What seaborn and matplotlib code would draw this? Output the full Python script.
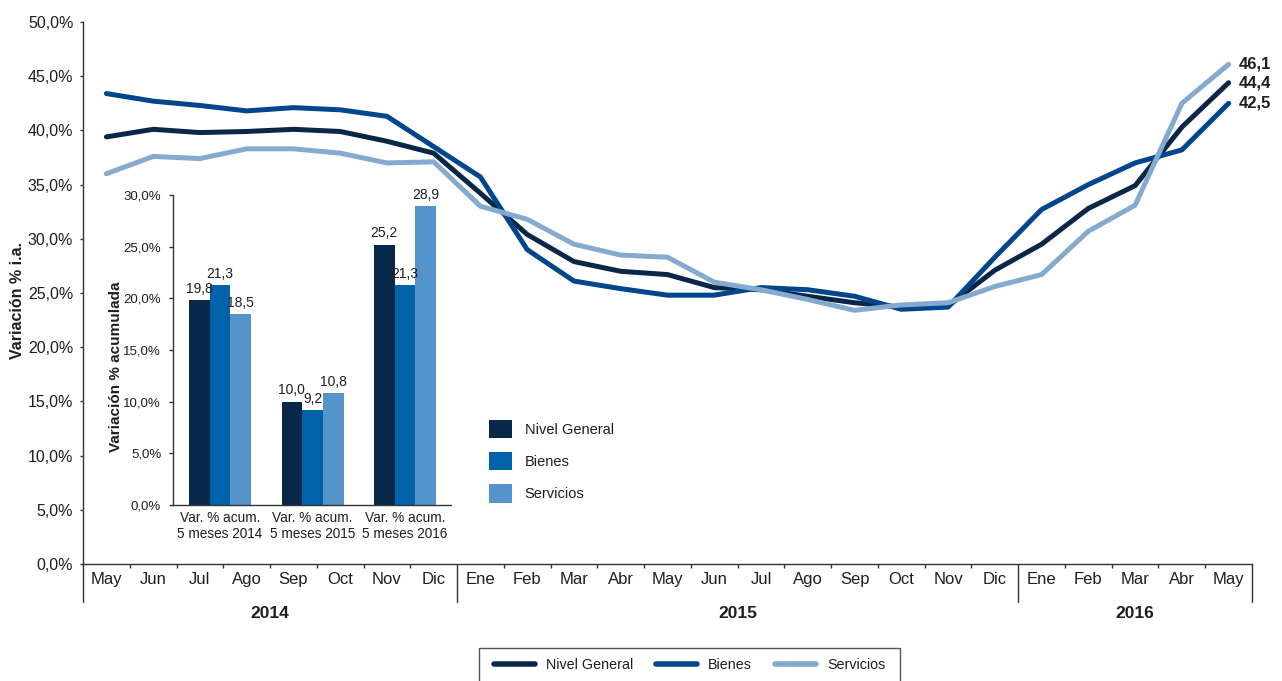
import numpy as np
import pandas as pd
import matplotlib
matplotlib.use("Agg")
import matplotlib.pyplot as plt
import seaborn as sns
from matplotlib.patches import Rectangle

# ---------------- data ----------------
meses = ["May", "Jun", "Jul", "Ago", "Sep", "Oct", "Nov", "Dic",
         "Ene", "Feb", "Mar", "Abr", "May", "Jun", "Jul", "Ago", "Sep", "Oct", "Nov", "Dic",
         "Ene", "Feb", "Mar", "Abr", "May"]
anios = ["2014", "2015", "2016"]
meses_por_anio = [8, 12, 5]

series = ["Nivel General", "Bienes", "Servicios"]
nivel_general = [39.4, 40.1, 39.8, 39.9, 40.1, 39.9, 39.0, 37.9,
                 34.2, 30.4, 27.9, 27.0, 26.7, 25.5, 25.3, 24.7, 24.1, 23.7, 23.8, 27.1,
                 29.5, 32.8, 34.9, 40.3, 44.4]
bienes = [43.4, 42.7, 42.3, 41.8, 42.1, 41.9, 41.3, 38.5,
          35.7, 29.0, 26.1, 25.4, 24.8, 24.8, 25.5, 25.3, 24.7, 23.5, 23.7, 28.3,
          32.7, 35.0, 37.0, 38.2, 42.5]
servicios = [36.0, 37.6, 37.4, 38.3, 38.3, 37.9, 37.0, 37.1,
             33.0, 31.8, 29.5, 28.5, 28.3, 26.0, 25.3, 24.4, 23.4, 23.9, 24.1, 25.6,
             26.7, 30.7, 33.1, 42.5, 46.1]

grupos = ["Var. % acum.\n5 meses 2014", "Var. % acum.\n5 meses 2015", "Var. % acum.\n5 meses 2016"]
ng_acum = [19.8, 10.0, 25.2]
bienes_acum = [21.3, 9.2, 21.3]
serv_acum = [18.5, 10.8, 28.9]

# ---------------- style ----------------
sns.set_style("white")
plt.rcParams["font.family"] = ["Liberation Sans", "DejaVu Sans"]
TXT = "#1e1e1e"
AXC = "#333333"
plt.rcParams["text.color"] = TXT
plt.rcParams["xtick.color"] = AXC
plt.rcParams["ytick.color"] = AXC
plt.rcParams["xtick.labelcolor"] = TXT
plt.rcParams["ytick.labelcolor"] = TXT

line_colors = {"Nivel General": "#0b2748", "Bienes": "#00468c", "Servicios": "#84abcf"}
bar_colors = {"Nivel General": "#08284a", "Bienes": "#0062a9", "Servicios": "#5594cb"}

W, H = 1282, 681
fig = plt.figure(figsize=(W / 100, H / 100), dpi=100)

# ---------------- main line chart ----------------
df = pd.DataFrame({
    "idx": list(range(len(meses))) * 3,
    "valor": nivel_general + bienes + servicios,
    "serie": [s for s in series for _ in meses],
})

ax = fig.add_axes([83 / W, 1 - 564 / H, (1252 - 83) / W, (564 - 22) / H])
sns.lineplot(data=df, x="idx", y="valor", hue="serie", hue_order=series,
             palette=line_colors, linewidth=3.6, ax=ax, sort=False)
handles, labels = ax.get_legend_handles_labels()
ax.get_legend().remove()

n = len(meses)
ax.set_xlim(-0.5, n - 0.5)
ax.set_ylim(0, 50)
yt = np.arange(0, 51, 5)
ax.set_yticks(yt)
ax.set_yticklabels([f"{v:.1f}%".replace(".", ",") for v in yt])
ax.set_xticks(range(n))
ax.set_xticklabels(meses)
ax.set_xlabel("")
ax.set_ylabel("")
ax.tick_params(axis="x", which="major", length=0, pad=5.5, labelsize=12)
ax.tick_params(axis="y", length=2.5, pad=4.5, labelsize=11.5, direction="out", left=True, width=1)
for s in ["top", "right"]:
    ax.spines[s].set_visible(False)
for s in ["left", "bottom"]:
    ax.spines[s].set_color(AXC)
    ax.spines[s].set_linewidth(1)

bounds = np.cumsum([0] + meses_por_anio) - 0.5
minor = [i + 0.5 for i in range(n - 1) if (i + 0.5) not in set(bounds)]
ax.set_xticks(minor, minor=True)
ax.tick_params(axis="x", which="minor", length=3, width=1, direction="out", bottom=True)

trans = ax.get_xaxis_transform()
ext = 38 / (564 - 22)
for b in bounds:
    ax.plot([b, b], [0, -ext], transform=trans, color=AXC, lw=1, clip_on=False)
for a, lo, hi in zip(anios, bounds[:-1], bounds[1:]):
    ax.text((lo + hi) / 2, -(614 - 564) / (564 - 22), a, transform=trans,
            ha="center", va="center", fontsize=12.5, fontweight="bold")

for s, vals in zip(series, [nivel_general, bienes, servicios]):
    ax.annotate(f"{vals[-1]:.1f}".replace(".", ","), xy=(n - 1, vals[-1]),
                xytext=(7, 0), textcoords="offset points", ha="left", va="center",
                fontsize=12, fontweight="bold", annotation_clip=False)

fig.text(18 / W, 1 - 300 / H, "Variación % i.a.", rotation=90, ha="center", va="center",
         fontsize=11.5, fontweight="bold")

# bottom legend
leg = fig.legend(handles, labels, loc="center", bbox_to_anchor=((479 + 900) / 2 / W, 1 - 665 / H),
                 ncol=3, frameon=False, fontsize=10.3, handlelength=2.9, handletextpad=0.75,
                 columnspacing=1.6)
for h in leg.legend_handles:
    h.set_linewidth(4)
fig.add_artist(Rectangle((479 / W, -0.05), (900 - 479) / W, 0.05 + (681 - 648) / H,
                         transform=fig.transFigure, fill=False, edgecolor="#555555", lw=1))

# ---------------- inset bar chart ----------------
df_bar = pd.DataFrame({
    "grupo": grupos * 3,
    "valor": ng_acum + bienes_acum + serv_acum,
    "serie": [s for s in series for _ in grupos],
})
ax_in = fig.add_axes([173 / W, 1 - 505 / H, (451 - 173) / W, (505 - 195) / H])
ax_in.set_facecolor("none")
sns.barplot(data=df_bar, x="grupo", y="valor", hue="serie", hue_order=series,
            palette=bar_colors, width=0.67, saturation=1, ax=ax_in, errorbar=None,
            linewidth=0, edgecolor="none")
bh, bl = ax_in.get_legend_handles_labels()
ax_in.get_legend().remove()
for cont in ax_in.containers:
    ax_in.bar_label(cont, labels=[f"{r.get_height():.1f}".replace(".", ",") for r in cont],
                    padding=3, fontsize=10)
ax_in.set_xlim(-0.508, 2.497)
ax_in.set_ylim(0, 30)
yti = np.arange(0, 31, 5)
ax_in.set_yticks(yti)
ax_in.set_yticklabels([f"{v:.1f}%".replace(".", ",") for v in yti])
ax_in.tick_params(axis="y", length=3, pad=5.5, labelsize=9.5, direction="out", left=True, width=1)
ax_in.tick_params(axis="x", length=0, pad=4, labelsize=9.8)
ax_in.set_xlabel("")
ax_in.set_ylabel("")
for s in ["top", "right"]:
    ax_in.spines[s].set_visible(False)
for s in ["left", "bottom"]:
    ax_in.spines[s].set_color(AXC)
    ax_in.spines[s].set_linewidth(1)
fig.text(115.5 / W, 1 - 366.7 / H, "Variación % acumulada", rotation=90, ha="center",
         va="center", fontsize=11, fontweight="bold")

ax_in.legend(bh, bl, loc="upper left", bbox_to_anchor=(489 / W, 1 - 420 / H),
             bbox_transform=fig.transFigure, frameon=False, fontsize=10.5,
             handlelength=1.55, handleheight=1.55, labelspacing=0.95, handletextpad=0.9,
             borderpad=0, borderaxespad=0)

fig.savefig("out.png", dpi=100)
